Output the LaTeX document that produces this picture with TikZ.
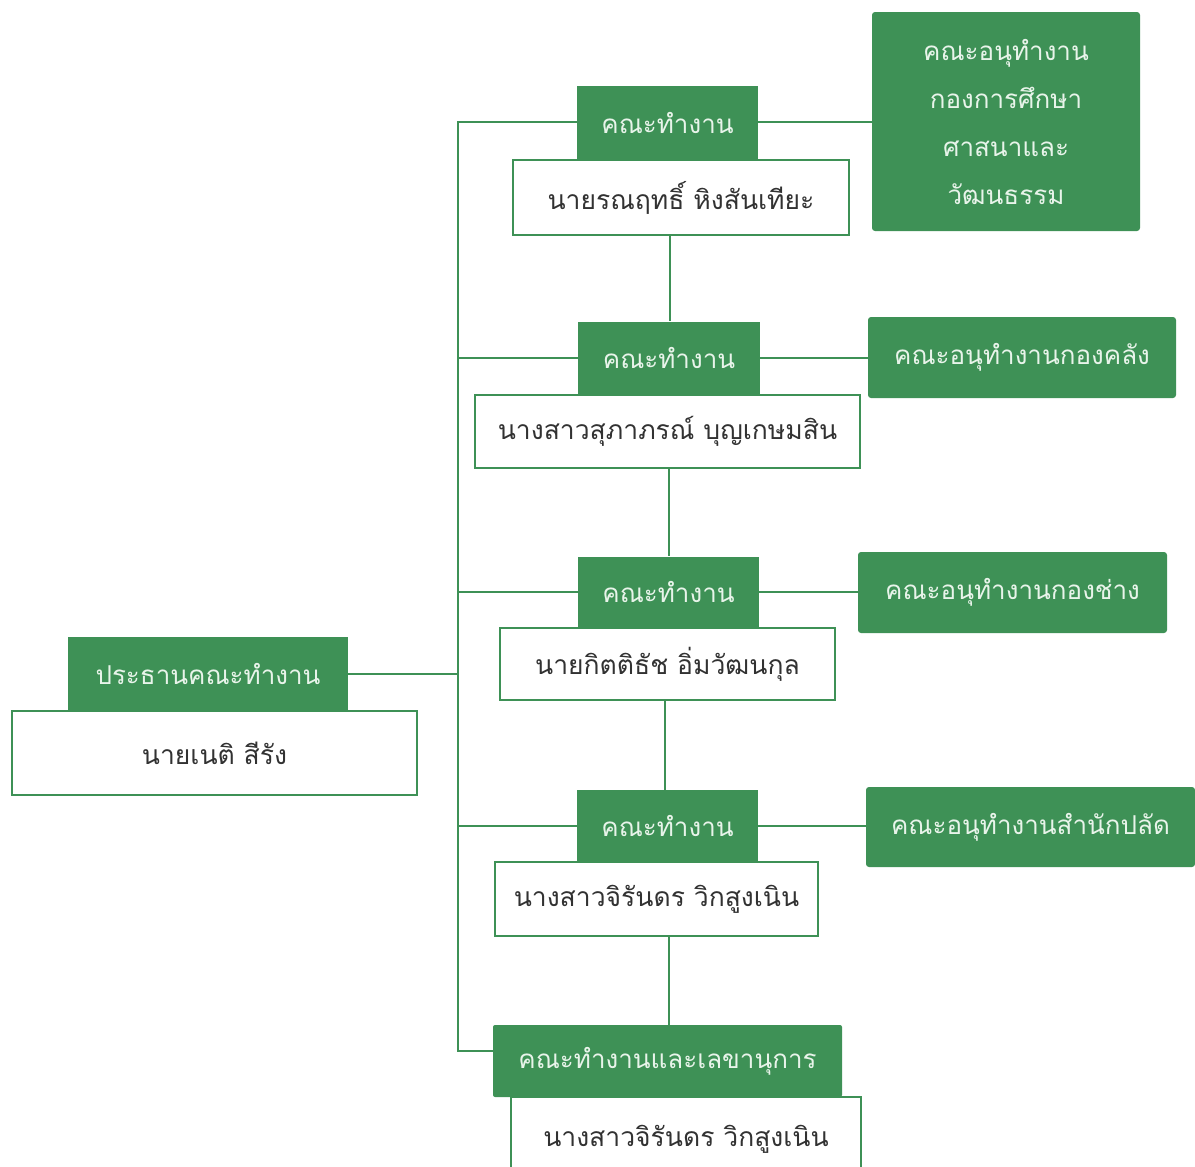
\documentclass[tikz,border=0pt]{standalone}
\usepackage{fontspec}
\newfontfamily\thaifont[Script=Thai]{Loma}
\definecolor{gr}{RGB}{62,145,86}
\definecolor{lt}{RGB}{232,244,234}
\definecolor{tx}{RGB}{50,50,50}
\begin{document}
\begin{tikzpicture}[x=1pt,y=-1pt,
  gbox/.style={fill=gr,text=lt,inner sep=0pt,font=\thaifont\fontsize{26}{48}\selectfont,align=center},
  wbox/.style={draw=gr,line width=1.2pt,fill=white,text=tx,inner sep=0pt,font=\thaifont\fontsize{26.5}{30}\selectfont},
  sbox/.style={gbox,rounded corners=3pt},
  conn/.style={draw=gr,line width=2pt}]
\useasboundingbox (0,0) rectangle (1195,1167);
% chair
\node[wbox,minimum width=405pt,minimum height=84pt] (cw) at (214.5,753) {นายเนติ สีรัง};
\node[gbox,minimum width=280pt,minimum height=74pt] (cg) at (208,674) {ประธานคณะทำงาน};
% level 1
\node[wbox,minimum width=336pt,minimum height=75pt] (w1) at (681,197.5) {นายรณฤทธิ์ หิงสันเทียะ};
\node[gbox,minimum width=181pt,minimum height=74pt] (g1) at (667.5,123) {คณะทำงาน};
\node[sbox,minimum width=268pt,minimum height=219pt] (s1) at (1006,121.5) {คณะอนุทำงาน\\กองการศึกษา\\ศาสนาและ\\วัฒนธรรม};
% level 2
\node[wbox,minimum width=385pt,minimum height=73pt] (w2) at (667.5,431.5) {นางสาวสุภาภรณ์ บุญเกษมสิน};
\node[gbox,minimum width=182pt,minimum height=73pt] (g2) at (669,358) {คณะทำงาน};
\node[sbox,minimum width=308pt,minimum height=81pt] (s2) at (1022,357.5) {คณะอนุทำงานกองคลัง};
% level 3
\node[wbox,minimum width=335pt,minimum height=72pt] (w3) at (667.5,664) {นายกิตติธัช อิ่มวัฒนกุล};
\node[gbox,minimum width=181pt,minimum height=71pt] (g3) at (668.5,592) {คณะทำงาน};
\node[sbox,minimum width=309pt,minimum height=81pt] (s3) at (1012.5,592.5) {คณะอนุทำงานกองช่าง};
% level 4
\node[wbox,minimum width=323pt,minimum height=74pt] (w4) at (656.5,899) {นางสาวจิรันดร วิกสูงเนิน};
\node[gbox,minimum width=181pt,minimum height=72pt] (g4) at (667.5,826) {คณะทำงาน};
\node[sbox,minimum width=329pt,minimum height=80pt] (s4) at (1030.5,827) {คณะอนุทำงานสำนักปลัด};
% level 5
\node[wbox,minimum width=350pt,minimum height=84pt] (w5) at (686,1139) {นางสาวจิรันดร วิกสูงเนิน};
\node[gbox,minimum width=349pt,minimum height=72pt,rounded corners=2pt] (g5) at (667.5,1061) {คณะทำงานและเลขานุการ};
% connectors
\coordinate (vt) at (458,122);
\coordinate (vb) at (458,1051);
\draw[conn] (g1.west |- vt) -- (vt) -- (vb) -- (vb -| g5.west);
\draw[conn] (g1.east |- vt) -- (vt -| s1.west);
\draw[conn] (g2.west) -- (g2.west -| vt);
\draw[conn] (g2.east) -- (g2.east -| s2.west);
\draw[conn] (g3.west) -- (g3.west -| vt);
\draw[conn] (g3.east) -- (g3.east -| s3.west);
\draw[conn] (g4.west) -- (g4.west -| vt);
\draw[conn] (g4.east) -- (g4.east -| s4.west);
\draw[conn] (cg.east) -- (cg.east -| vt);
\draw[conn] (670,0 |- w1.south) coordinate (a1) -- (a1 |- g2.north);
\draw[conn] (669,0 |- w2.south) coordinate (a2) -- (a2 |- g3.north);
\draw[conn] (665,0 |- w3.south) coordinate (a3) -- (a3 |- g4.north);
\draw[conn] (669,0 |- w4.south) coordinate (a4) -- (a4 |- g5.north);
\end{tikzpicture}
\end{document}
